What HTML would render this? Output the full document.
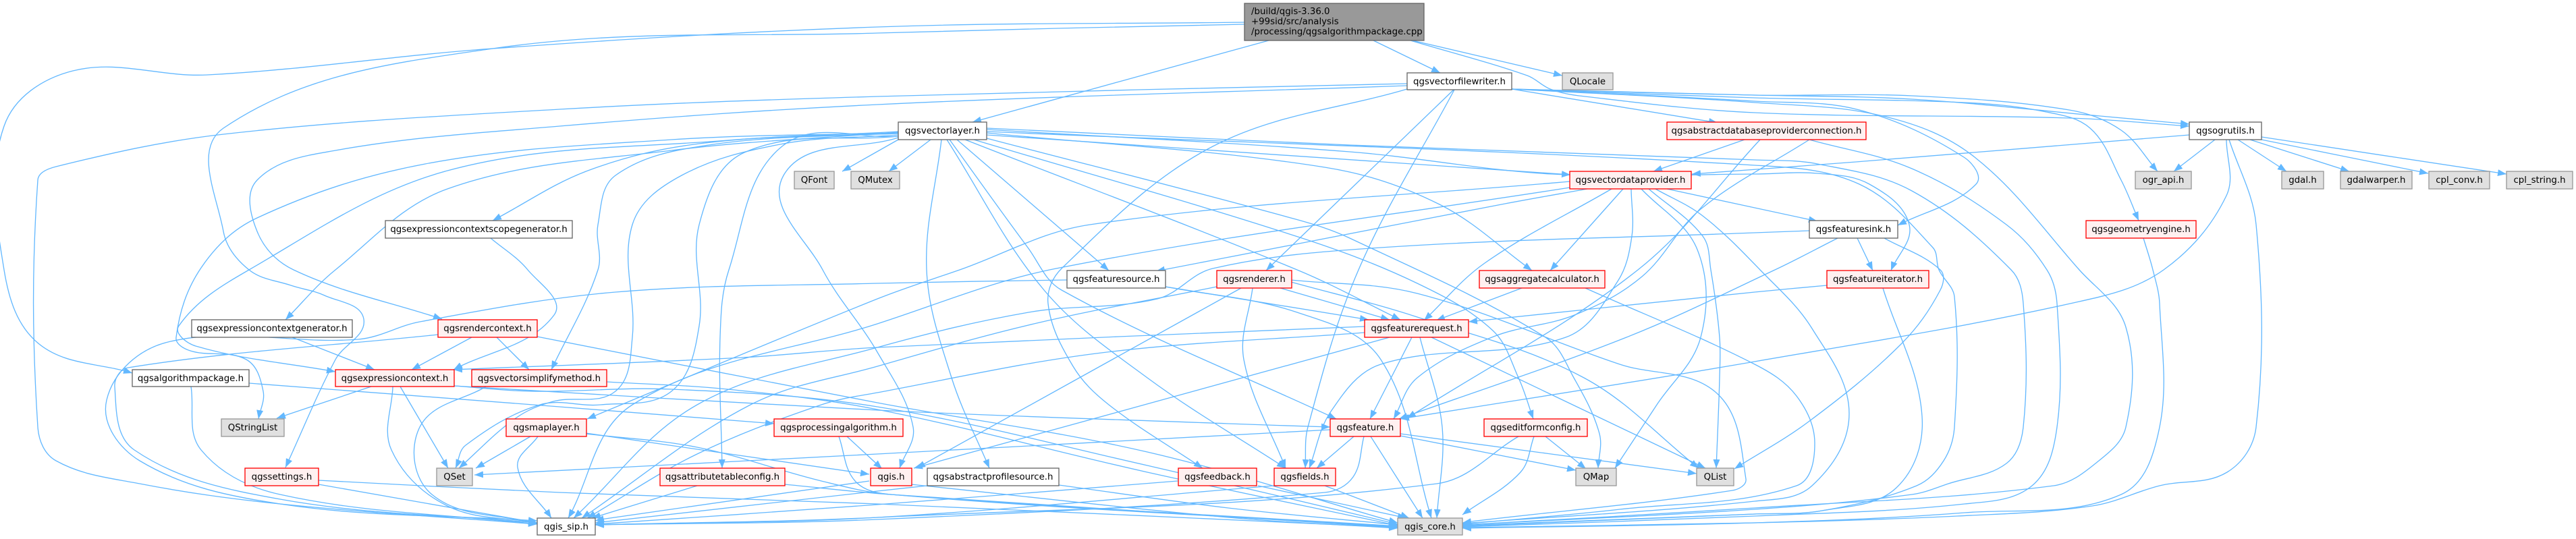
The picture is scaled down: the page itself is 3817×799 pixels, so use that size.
<!DOCTYPE html>
<html><head><meta charset="utf-8">
<style>
html,body{margin:0;padding:0;background:#fff}
svg{display:block}
text{font-family:"DejaVu Sans",sans-serif;font-size:13.33px;fill:#000;text-anchor:middle}
.w{fill:#fff;stroke:#666;stroke-width:1.33}
.r{fill:#fff0f0;stroke:#f00;stroke-width:1.33}
.g{fill:#e0e0e0;stroke:#999;stroke-width:1.33}
.e{fill:none;stroke:#63b8ff;stroke-width:1.33}
</style></head><body>
<svg xmlns="http://www.w3.org/2000/svg" width="3817" height="799" viewBox="0 0 3817 799">
<defs><marker id="a" markerUnits="userSpaceOnUse" markerWidth="14" markerHeight="12" refX="13" refY="5" orient="auto"><path d="M0 0L13 5L0 10z" fill="#63b8ff"/></marker></defs>
<g id="edges"></g>
<g>
<rect x="1844" y="5" width="266" height="55" fill="#999" stroke="#666" stroke-width="1.33"/>
<text x="1854" y="21" style="text-anchor:start">/build/qgis-3.36.0</text>
<text x="1854" y="36" style="text-anchor:start">+99sid/src/analysis</text>
<text x="1854" y="51" style="text-anchor:start">/processing/qgsalgorithmpackage.cpp</text>
<rect class="w" x="2085" y="108" width="155" height="25"/><text x="2162.5" y="125">qgsvectorfilewriter.h</text>
<rect class="g" x="2315" y="108" width="75" height="25"/><text x="2352.5" y="125">QLocale</text>
<rect class="w" x="1331" y="181" width="131" height="26"/><text x="1396.5" y="198">qgsvectorlayer.h</text>
<rect class="r" x="2470" y="181" width="295" height="26"/><text x="2617.5" y="198">qgsabstractdatabaseproviderconnection.h</text>
<rect class="w" x="3244" y="181" width="107" height="26"/><text x="3297.5" y="198">qgsogrutils.h</text>
<rect class="g" x="1177" y="254" width="59" height="26"/><text x="1206.5" y="271">QFont</text>
<rect class="g" x="1261" y="254" width="72" height="26"/><text x="1297" y="271">QMutex</text>
<rect class="r" x="2326" y="254" width="180" height="26"/><text x="2416" y="271">qgsvectordataprovider.h</text>
<rect class="g" x="3164" y="254" width="83" height="26"/><text x="3205.5" y="271">ogr_api.h</text>
<rect class="g" x="3381" y="254" width="62" height="26"/><text x="3412" y="271">gdal.h</text>
<rect class="g" x="3468" y="254" width="106" height="26"/><text x="3521" y="271">gdalwarper.h</text>
<rect class="g" x="3599" y="254" width="90" height="26"/><text x="3644" y="271">cpl_conv.h</text>
<rect class="g" x="3714" y="254" width="98" height="26"/><text x="3763" y="271">cpl_string.h</text>
<rect class="w" x="571" y="327" width="277" height="26"/><text x="709.5" y="344">qgsexpressioncontextscopegenerator.h</text>
<rect class="w" x="2681" y="327" width="131" height="26"/><text x="2746.5" y="344">qgsfeaturesink.h</text>
<rect class="r" x="3091" y="327" width="163" height="26"/><text x="3172.5" y="344">qgsgeometryengine.h</text>
<rect class="w" x="1581" y="401" width="146" height="26"/><text x="1654" y="418">qgsfeaturesource.h</text>
<rect class="r" x="1803" y="401" width="111" height="26"/><text x="1858.5" y="418">qgsrenderer.h</text>
<rect class="r" x="2192" y="401" width="186" height="26"/><text x="2285" y="418">qgsaggregatecalculator.h</text>
<rect class="r" x="2707" y="401" width="151" height="26"/><text x="2782.5" y="418">qgsfeatureiterator.h</text>
<rect class="w" x="284" y="474" width="238" height="26"/><text x="403" y="491">qgsexpressioncontextgenerator.h</text>
<rect class="r" x="649" y="474" width="147" height="26"/><text x="722.5" y="491">qgsrendercontext.h</text>
<rect class="r" x="2022" y="474" width="154" height="26"/><text x="2099" y="491">qgsfeaturerequest.h</text>
<rect class="w" x="196" y="548" width="173" height="25"/><text x="282.5" y="565">qgsalgorithmpackage.h</text>
<rect class="r" x="497" y="548" width="176" height="25"/><text x="585" y="565">qgsexpressioncontext.h</text>
<rect class="r" x="699" y="548" width="200" height="25"/><text x="799" y="565">qgsvectorsimplifymethod.h</text>
<rect class="g" x="328" y="621" width="93" height="26"/><text x="374.5" y="638">QStringList</text>
<rect class="r" x="750" y="621" width="119" height="26"/><text x="809.5" y="638">qgsmaplayer.h</text>
<rect class="r" x="1147" y="621" width="191" height="26"/><text x="1242.5" y="638">qgsprocessingalgorithm.h</text>
<rect class="r" x="1971" y="621" width="104" height="26"/><text x="2023" y="638">qgsfeature.h</text>
<rect class="r" x="2199" y="621" width="153" height="26"/><text x="2275.5" y="638">qgseditformconfig.h</text>
<rect class="r" x="363" y="694" width="109" height="26"/><text x="417.5" y="711">qgssettings.h</text>
<rect class="g" x="647" y="694" width="53" height="26"/><text x="673.5" y="711">QSet</text>
<rect class="r" x="978" y="694" width="185" height="26"/><text x="1070.5" y="711">qgsattributetableconfig.h</text>
<rect class="r" x="1290" y="694" width="61" height="26"/><text x="1320.5" y="711">qgis.h</text>
<rect class="w" x="1374" y="694" width="195" height="26"/><text x="1471.5" y="711">qgsabstractprofilesource.h</text>
<rect class="r" x="1746" y="694" width="116" height="26"/><text x="1804" y="711">qgsfeedback.h</text>
<rect class="r" x="1888" y="694" width="91" height="26"/><text x="1933.5" y="711">qgsfields.h</text>
<rect class="g" x="2335" y="694" width="60" height="26"/><text x="2365" y="711">QMap</text>
<rect class="g" x="2514" y="694" width="55" height="26"/><text x="2541.5" y="711">QList</text>
<rect class="w" x="796" y="768" width="86" height="25"/><text x="839" y="785">qgis_sip.h</text>
<rect class="g" x="2071" y="768" width="96" height="25"/><text x="2119" y="785">qgis_core.h</text>
</g>
</svg>
<script>
var E=[
[1844,33,1300,40,730,72,307,111,108,105,6,187,6,400,58,510,196,553],
[1844,36,1300,49,730,72,331,190,331,343,369,400,431,423,481,438,539,473,497,533,423,693],
[1880,60,1441,181],[2035,60,2134,108],[2093,60,2315,112],
[2090,60,2263,112,2297,132,2340,142,2600,167,3066,175,3244,187],
[2240,132,2600,141,2833,147,3112,172,3244,184],
[2240,132,2600,141,2833,142,3066,163,3143,193,3197,254],
[2240,132,2600,145,2910,152,3027,165,3097,190,3143,267,3169,327],
[2240,132,2600,150,2755,163,2910,233,2928,273,2812,334],
[2240,132,2600,152,2794,173,2926,233,3081,400,3150,485,3150,633,3105,687,3043,720,2600,753,2167,778],
[2085,124,1300,143,829,162,331,199,83,247,56,267,56,633,83,683,207,717,415,747,796,777],
[2085,127,1300,155,829,187,497,223,381,267,381,343,435,400,655,473],
[2085,132,1797,217,1574,397,1553,450,1590,543,1643,600,1782,694],
[2154,133,1876,401],
[2155,133,2013,400,1938,633,1934,694],
[2240,132,2545,182],
[1331,197,995,207,630,243,381,323,298,397,261,500,282,520,365,533,390,580,383,621],
[1331,198,1078,208,663,253,369,400,265,483,290,513,497,551],
[1331,196,995,223,663,280,497,400,423,474],
[1331,195,1036,213,871,253,730,327],
[1331,197,1050,215,912,260,886,333,886,400,817,548],
[1331,200,1161,213,1010,260,937,333,937,500,912,580,820,595,764,620,680,694],
[1331,202,1103,226,1036,333,1036,483,995,580,890,600,800,600,690,660,675,694],
[1331,202,1160,216,1080,400,1067,500,1070,694],
[1331,204,1161,260,1219,400,1300,522,1353,633,1333,694],
[1331,207,1248,254],
[1379,207,1317,254],
[727,353,782,400,821,467,672,548],
[1395,207,1373,400,1410,560,1466,694],
[1403,207,1547,430,1700,560,1905,694],
[1407,207,1523,367,1573,430,1980,621],
[1418,207,1643,401],
[1430,207,1922,400,2075,474],
[1443,207,1920,350,2100,420,2212,490,2250,560,2272,621],
[1462,205,1920,325,2000,353,2290,500,2332,560,2370,643,2368,694],
[1462,197,1963,248,2133,303,2270,401],
[1462,200,2327,259],
[1462,195,2600,245,2755,273,2864,367,2873,400,2896,440,2896,633,2880,683,2840,720,2700,757,2600,762,2167,780],
[1462,190,2000,215,2600,237,2693,243,2833,283,2980,400,2998,450,2998,633,2973,687,2887,717,2833,733,2600,755,2167,778],
[1462,192,2000,225,2300,258,2600,258,2693,257,2770,273,2829,333,2802,401],
[2681,207,2833,250,2973,333,3033,400,3048,450,3048,633,3011,720,2911,747,2600,765,2167,781],
[2585,207,2450,254],
[2608,207,2427,400,2085,620],
[3244,200,2750,240,2507,258],
[3282,207,3221,254],[3316,207,3388,254],[3334,207,3481,254],[3351,207,3598,257],[3351,203,3714,258],
[3299,207,3299,290,3206,400,3081,447,2600,536,2075,621],
[3303,207,3343,333,3343,633,3300,700,3200,720,3100,750,2900,765,2600,775,2167,782],
[3176,353,3190,400,3200,450,3200,633,3143,733,2911,760,2600,775,2167,783],
[2326,269,1615,333,1422,400,1300,443,870,621],
[2326,278,1565,398,1300,480,937,600,842,768],
[2681,342,2600,345,2046,367,1797,398,1715,443,1524,463,1300,515,1033,600,850,768],
[1803,425,1532,480,1300,543,1112,600,862,768],
[2022,493,1632,523,1300,582,1217,600,1033,673,870,768],
[2352,280,2230,302,1920,362,1713,402],
[2388,280,2200,390,2110,475],
[2405,280,2297,401],
[2417,280,2418,350,2397,417,2320,500,2046,540,1972,610,1940,694],
[2432,280,2515,370,2520,500,2455,600,2393,694],
[2443,280,2523,350,2535,400,2548,500,2548,560,2543,694],
[2453,280,2523,320,2608,400,2685,487,2740,613,2685,720,2600,743,2167,776],
[2470,280,2693,328],
[2681,207,2520,310,2433,410,2333,467,2213,499,2100,560,2065,621],
[2723,353,2630,400,2410,500,2073,621],
[2752,353,2775,401],
[2792,353,2875,400,2875,430,2817,510,2680,625,2570,695],
[2707,423,2600,433,2176,477],
[2790,427,2848,617,2810,723,2700,757,2600,762,2167,779],
[2349,427,2600,540,2662,587,2689,657,2662,720,2400,755,2167,777],
[1581,415,1300,420,912,433,622,477,531,503,249,507,158,593,207,683,415,747,796,772],
[1727,425,2028,474],
[1727,425,1922,463,2046,533,2121,768],
[1897,427,2059,474],
[1839,427,1358,694],
[1856,427,1843,533,1905,694],
[1913,415,2100,435,2400,540,2544,583,2587,710,2567,727,2180,773,2167,775],
[1913,418,2100,470,2347,560,2517,694],
[2255,427,2128,475],
[433,500,555,548],
[649,496,190,545,170,573,199,667,415,740,796,775],
[699,500,610,548],[736,500,784,548],
[796,499,1300,597,1700,670,2071,775],
[283,573,298,667,415,733,796,777],
[369,568,829,603,1147,628],
[550,573,410,620],
[582,573,580,667,663,750,796,775],
[593,573,664,694],
[673,572,788,580,995,577,1300,603,1700,690,2071,777],
[673,572,1300,608,1820,628,1971,633],
[720,573,622,633,640,733,796,776],
[899,566,1078,577,1300,607,1700,700,2071,779],
[786,647,705,694],
[797,647,767,693,817,768],
[868,642,1288,703],
[868,643,1033,663,1217,713,1320,733,2071,780],
[1243,647,1267,713,1320,733,2071,781],
[1255,647,1307,695],
[472,718,796,775],
[472,712,829,730,1300,747,2071,782],
[1033,720,877,768],
[1163,718,1320,733,2071,782],
[1288,713,890,770,882,772],
[1350,718,1820,767,2071,783],
[1374,720,1300,728,882,775],
[1569,719,1820,753,2071,778],
[1745,713,1300,748,882,777],
[1864,720,2084,768],
[1888,720,1300,767,882,778],
[1963,720,2088,768],
[2006,647,1951,694],
[1971,637,1300,673,703,704],
[2021,647,2005,707,1963,730,1300,770,882,778],
[2031,647,2108,768],
[2075,646,2335,697],
[2075,643,2514,702],
[2290,647,2350,695],
[2273,647,2253,700,2167,763],
[2250,647,2129,717,1300,767,882,778],
[2092,500,2030,621],
[2104,500,2137,633,2129,768],
[2121,500,2527,694],
[2059,500,1354,694],
[2022,484,1300,515,1100,530,672,548]
];
var s="";
E.forEach(function(p){
 var n=p.length/2,d="M"+p[0]+" "+p[1];
 function T(i){
  var a=Math.max(i-1,0),b=Math.min(i+1,n-1),x=p[2*b]-p[2*a],y=p[2*b+1]-p[2*a+1],l=Math.hypot(x,y)||1;
  return [x/l,y/l];
 }
 for(var i=0;i<n-1;i++){
  var x0=p[2*i],y0=p[2*i+1],x1=p[2*i+2],y1=p[2*i+3],L=Math.hypot(x1-x0,y1-y0)*.35,t0=T(i),t1=T(i+1);
  d+="C"+(x0+t0[0]*L).toFixed(1)+" "+(y0+t0[1]*L).toFixed(1)+" "+(x1-t1[0]*L).toFixed(1)+" "+(y1-t1[1]*L).toFixed(1)+" "+x1+" "+y1;
 }
 s+='<path class="e" marker-end="url(#a)" d="'+d+'"/>';
});
document.getElementById("edges").innerHTML=s;
</script>
</body></html>
